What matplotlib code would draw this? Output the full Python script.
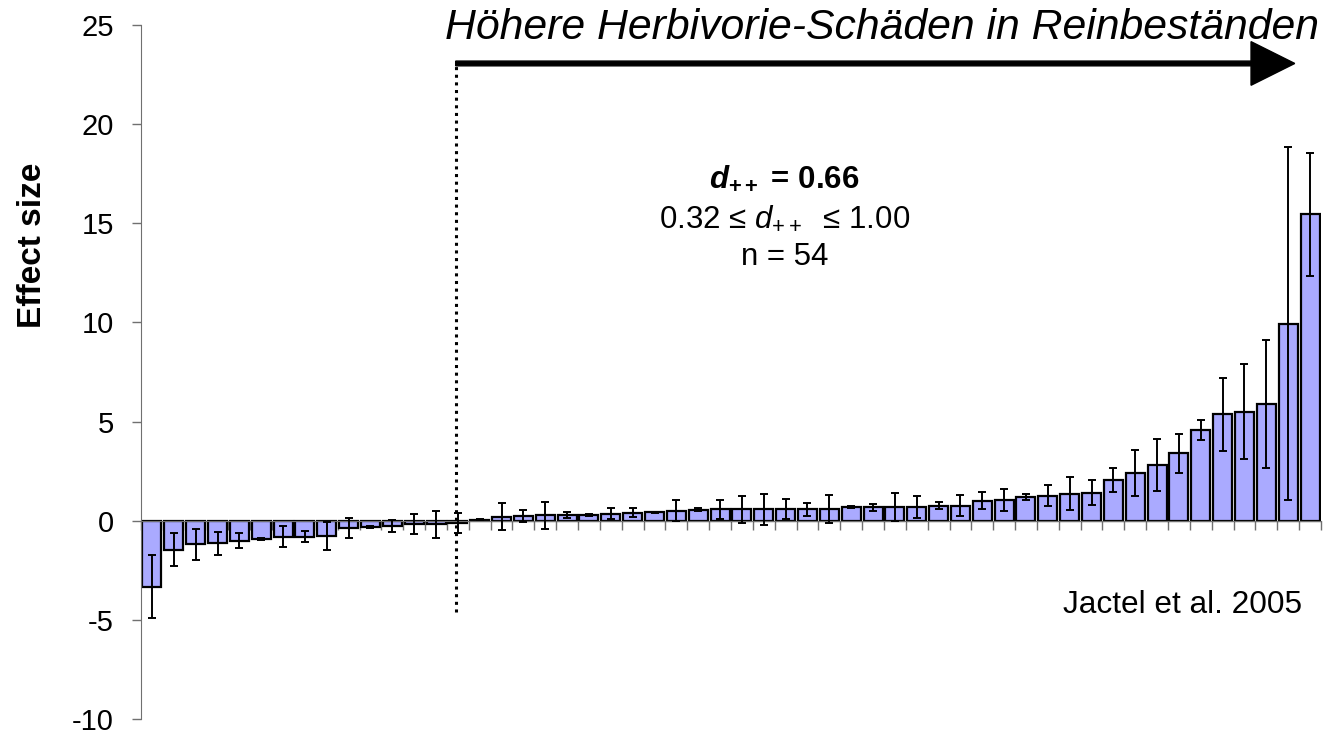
import numpy as np
import matplotlib
matplotlib.use('Agg')
import matplotlib.pyplot as plt

plt.rcParams['font.family'] = ['Liberation Sans', 'DejaVu Sans']
plt.rcParams['axes.unicode_minus'] = False
plt.rcParams['mathtext.fontset'] = 'custom'
plt.rcParams['mathtext.rm'] = 'Liberation Sans'
plt.rcParams['mathtext.it'] = 'Liberation Sans:italic'
plt.rcParams['mathtext.bf'] = 'Liberation Sans:bold'
plt.rcParams['mathtext.bfit'] = 'Liberation Sans:italic:bold'

# effect sizes per study, sorted
effect = [-3.32, -1.47, -1.19, -1.14, -1.00, -0.94, -0.80, -0.80, -0.77, -0.38,
          -0.30, -0.28, -0.18, -0.17, -0.13, 0.05, 0.20, 0.24, 0.27, 0.30,
          0.31, 0.35, 0.40, 0.42, 0.49, 0.55, 0.57, 0.57, 0.57, 0.57,
          0.57, 0.60, 0.67, 0.67, 0.69, 0.69, 0.76, 0.76, 1.01, 1.04,
          1.18, 1.26, 1.36, 1.41, 2.07, 2.42, 2.79, 3.40, 4.58, 5.36,
          5.49, 5.89, 9.94, 15.45]
ci = [1.58, 0.84, 0.79, 0.57, 0.40, 0.05, 0.53, 0.27, 0.72, 0.50,
      0.05, 0.30, 0.50, 0.68, 0.50, 0.03, 0.69, 0.30, 0.68, 0.14,
      0.05, 0.28, 0.23, 0.04, 0.53, 0.08, 0.48, 0.70, 0.78, 0.50,
      0.33, 0.70, 0.05, 0.17, 0.72, 0.55, 0.17, 0.53, 0.44, 0.56,
      0.15, 0.52, 0.82, 0.63, 0.61, 1.15, 1.31, 0.98, 0.49, 1.83,
      2.39, 3.21, 8.92, 3.09]
y_ticks = [-10, -5, 0, 5, 10, 15, 20, 25]

n = len(effect)
x = np.arange(n)

fig = plt.figure(figsize=(13.28, 7.35), dpi=100)
ax = fig.add_axes([0.1062, 0.0218, 0.8885, 0.9442])

ax.bar(x, effect, width=0.87, color='#aaaaff', edgecolor='black', linewidth=1.6, zorder=2)
ax.errorbar(x, effect, yerr=ci, fmt='none', ecolor='black', elinewidth=1.4,
            capsize=3.2, capthick=1.4, zorder=3)

ax.set_xlim(-0.5, n - 0.5)
ax.set_ylim(-10, 25)
ax.set_yticks(y_ticks)
ax.set_yticklabels([str(t) for t in y_ticks])
ax.set_xticks(np.arange(n + 1) - 0.5)
ax.set_xticklabels([])

for s in ['top', 'right']:
    ax.spines[s].set_visible(False)
ax.spines['left'].set_color('#707070')
ax.spines['bottom'].set_color('#707070')
ax.spines['bottom'].set_position(('data', 0))
ax.tick_params(axis='y', direction='out', length=6.5, width=1, color='#707070',
               labelsize=21, pad=13)
ax.tick_params(axis='x', direction='out', length=6.5, width=1, color='#707070')

fig.text(33 / 1328, 1 - 245 / 735, 'Effect size', rotation=90, fontsize=24,
         fontweight='bold', ha='center', va='center')

# dotted divider and arrow
x_div = 13.9
ax.plot([x_div, x_div], [-4.6, 23.06], color='black', linewidth=2.2,
        linestyle=(0, (1, 1.5)), zorder=4, clip_on=False)
ax.arrow(x_div, 23.06, 52.3 - x_div, 0, width=0.24, head_width=2.2, head_length=2.0,
         length_includes_head=True, color='black', zorder=4, clip_on=False)
ax.text(33.4, 24.31, 'Höhere Herbivorie-Schäden in Reinbeständen', fontsize=30.8,
        style='italic', ha='center', va='baseline', clip_on=False)

ax.text(28.95, 16.81, r'$\mathbfit{d}_{\mathbf{++}}$ = 0.66', fontsize=22.5,
        fontweight='bold', ha='center', va='baseline')
ax.text(28.95, 14.8, r'0.32 ≤ $d_{++}$  ≤ 1.00', fontsize=22.5, ha='center', va='baseline')
ax.text(28.95, 12.89, 'n = 54', fontsize=22.5, ha='center', va='baseline')
ax.text(52.62, -4.65, 'Jactel et al. 2005', fontsize=22.8, ha='right', va='baseline')

fig.savefig('out.png', dpi=100)
